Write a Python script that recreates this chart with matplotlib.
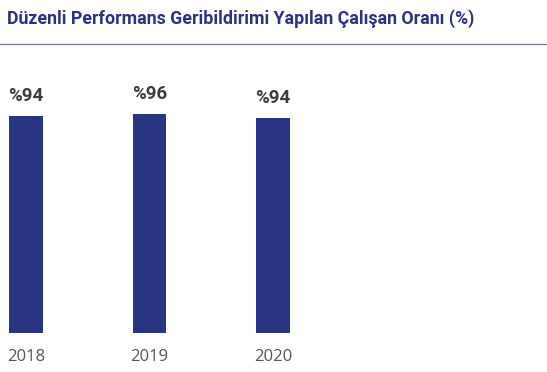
import matplotlib
matplotlib.use("Agg")
import matplotlib.pyplot as plt
from matplotlib.lines import Line2D

years = ["2018", "2019", "2020"]
bar_values = [94, 95, 93]          # bar heights as drawn
value_labels = ["%94", "%96", "%94"]
title = "Düzenli Performans Geribildirimi Yapılan Çalışan Oranı (%)"

NAVY = "#283583"
TITLE_COLOR = "#2c3180"

plt.rcParams['font.family'] = ['Open Sans', 'DejaVu Sans']

fig = plt.figure(figsize=(5.47, 3.72), dpi=100)
W, H = 547, 372

# axes spans the full width, x positions mapped so bar centres sit at ~26, 148, 273 px
ax = fig.add_axes([0, 38.7 / H, 1, 231.2 / H])
x = list(range(len(years)))
ax.bar(x, bar_values, width=0.275, color=NAVY)
ax.set_xlim(-26 / 123.5, (W - 26) / 123.5)
ax.set_ylim(0, 100)

for xi, v, lab in zip(x, bar_values, value_labels):
    ax.annotate(lab, (xi, v), xytext=(0, 10.8), textcoords='offset points',
                ha='center', va='baseline', fontsize=13.5, fontweight='bold',
                color='#3d3d3d', family=['Roboto', 'DejaVu Sans'])

ax.set_xticks(x)
ax.set_xticklabels(years, fontsize=12, color='#555555')
ax.tick_params(axis='x', length=0, pad=11)
ax.set_yticks([])
for s in ax.spines.values():
    s.set_visible(False)
ax.patch.set_alpha(0)

fig.text(7 / W, 1 - 24 / H, title, ha='left', va='baseline', fontsize=12.8,
         fontweight='bold', color=TITLE_COLOR, family=['Roboto', 'DejaVu Sans'])
fig.add_artist(Line2D([0, 1], [1 - 44 / H, 1 - 44 / H], transform=fig.transFigure,
                      color='#6d70b3', linewidth=0.9))

fig.savefig("out.png", dpi=100)
